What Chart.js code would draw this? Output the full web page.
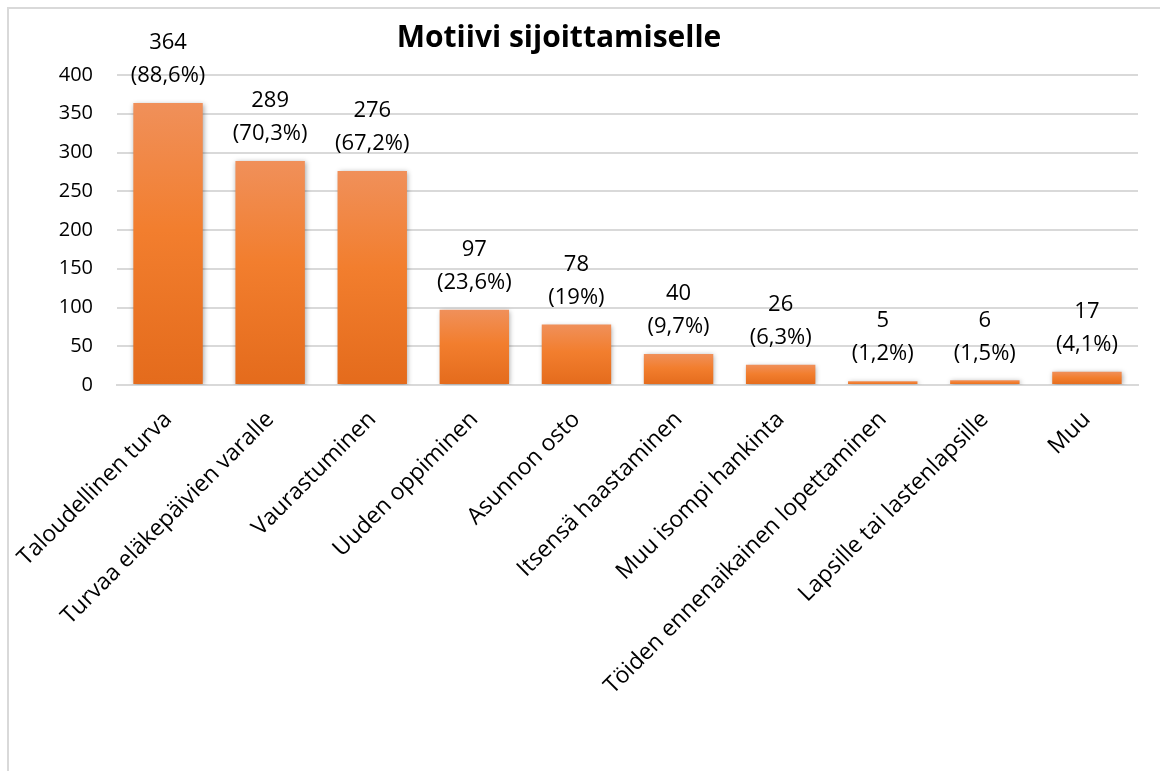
<!DOCTYPE html>
<html>
<head>
<meta charset="utf-8">
<script src="https://cdn.jsdelivr.net/npm/chart.js@4/dist/chart.umd.min.js"></script>
<style>
body{margin:0;background:#fff;}
canvas{display:block;}
</style>
</head>
<body>
<canvas id="motiiviChart" width="1160" height="771"></canvas>
<script>
// data
const categories=["Taloudellinen turva","Turvaa eläkepäivien varalle","Vaurastuminen","Uuden oppiminen","Asunnon osto","Itsensä haastaminen","Muu isompi hankinta","Töiden ennenaikainen lopettaminen","Lapsille tai lastenlapsille","Muu"];
const counts=[364,289,276,97,78,40,26,5,6,17];
const shares=["88,6%","70,3%","67,2%","23,6%","19%","9,7%","6,3%","1,2%","1,5%","4,1%"];
const titleText="Motiivi sijoittamiselle";

const fontFam="'Open Sans', 'Noto Sans', sans-serif";
Chart.defaults.font.family=fontFam;
Chart.defaults.color="#000";

function barFill(ctx){
const chart=ctx.chart;
if(!chart.chartArea) return "#f07b2c";
const y=chart.scales.y;
const top=y.getPixelForValue(ctx.raw);
const base=y.getPixelForValue(0);
if(base-top<2) return "#f07b2c";
const g=chart.ctx.createLinearGradient(0,top,0,base);
g.addColorStop(0,"#f0905a");
g.addColorStop(0.45,"#f27e2e");
g.addColorStop(1,"#e46b1c");
return g;
}

// frame + title
const framePlugin={
id:"frame",
beforeDraw(chart){
const c=chart.ctx;
c.save();
c.strokeStyle="#d9d9d9";
c.lineWidth=2;
c.beginPath();
c.moveTo(8,771);
c.lineTo(8,8);
c.lineTo(1160,8);
c.stroke();
c.restore();
},
afterDraw(chart){
const c=chart.ctx;
c.save();
c.font="bold 30px "+fontFam;
c.fillStyle="#000";
c.textAlign="center";
c.textBaseline="middle";
c.fillText(titleText,559,38);
c.restore();
}
};

// shadow under bars
const shadowPlugin={
id:"barShadow",
beforeDatasetDraw(chart){
const c=chart.ctx;
c.save();
c.shadowColor="rgba(0,0,0,0.35)";
c.shadowBlur=5;
c.shadowOffsetX=1;
c.shadowOffsetY=1;
},
afterDatasetDraw(chart){
chart.ctx.restore();
}
};

// value + share labels above the bars
const labelPlugin={
id:"barLabels",
afterDatasetsDraw(chart){
const c=chart.ctx;
const meta=chart.getDatasetMeta(0);
c.save();
c.font="22px "+fontFam;
c.fillStyle="#000";
c.textAlign="center";
c.textBaseline="middle";
meta.data.forEach((bar,i)=>{
c.fillText(String(counts[i]),bar.x,bar.y-60);
c.fillText("("+shares[i]+")",bar.x,bar.y-27);
});
c.restore();
}
};

new Chart(document.getElementById("motiiviChart"),{
type:"bar",
data:{
labels:categories,
datasets:[{
data:counts,
backgroundColor:barFill,
borderWidth:0,
categoryPercentage:1,
barPercentage:0.68
}]
},
options:{
responsive:false,
animation:false,
devicePixelRatio:1,
layout:{padding:{top:75,right:22,left:0,bottom:0}},
plugins:{
legend:{display:false},
title:{display:false},
tooltip:{enabled:false}
},
scales:{
x:{
grid:{display:false},
border:{display:true,color:"#d9d9d9",width:2},
ticks:{
font:{size:23},
color:"#000",
maxRotation:45,
minRotation:45,
autoSkip:false,
padding:13
},
afterFit(scale){scale.height=386;}
},
y:{
min:0,
max:400,
grid:{color:"#d9d9d9",lineWidth:2,drawTicks:false},
border:{display:false},
ticks:{
stepSize:50,
font:{size:20},
color:"#000",
padding:24
},
afterFit(scale){scale.width=117;}
}
}
},
plugins:[framePlugin,shadowPlugin,labelPlugin]
});
</script>
</body>
</html>
